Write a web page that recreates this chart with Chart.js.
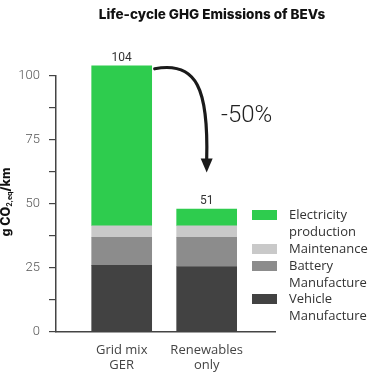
<!DOCTYPE html>
<html>
<head>
<meta charset="utf-8">
<script src="https://cdn.jsdelivr.net/npm/chart.js@4"></script>
<style>
html,body{margin:0;padding:0;background:#fff;}
#wrap{position:relative;width:375px;height:375px;}
</style>
</head>
<body>
<div id="wrap"><canvas id="c" width="375" height="375"></canvas></div>
<script>
// ---- data ----
const categories = [["Grid mix", "GER"], ["Renewables", "only"]];
const vehicleManufacture = [26, 25.5];
const batteryManufacture = [11, 11.5];
const maintenance = [4.5, 4.5];
const electricityProduction = [62.5, 6.5];
const totalLabels = ["104", "51"];
const yTicks = [0, 25, 50, 75, 100];
const seriesNames = ["Vehicle Manufacture", "Battery Manufacture", "Maintenance", "Electricity production"];
const legendLines = [["Electricity", "production"], ["Maintenance"], ["Battery", "Manufacture"], ["Vehicle", "Manufacture"]];
const reductionLabel = "-50%";
const titleText = "Life-cycle GHG Emissions of BEVs";

const colors = ["#424242", "#8c8c8c", "#c9c9c9", "#2ecc4e"];
const seriesValues = [vehicleManufacture, batteryManufacture, maintenance, electricityProduction];

const datasets = seriesValues.map((vals, i) => ({
  label: seriesNames[i],
  data: vals.map((v, k) => ({x: k, y: v})),
  backgroundColor: colors[i],
  borderWidth: 0,
  barThickness: 60,
  clip: false
}));

const overlay = {
  id: 'overlay',
  afterDraw(chart) {
    const ctx = chart.ctx;
    const xs = chart.scales.x, ys = chart.scales.y;
    ctx.save();
    // title
    ctx.fillStyle = '#111';
    ctx.font = '800 13.5px Inter, "Open Sans", sans-serif';
    ctx.textAlign = 'center';
    ctx.textBaseline = 'middle';
    ctx.fillText(titleText, 212, 15);

    // totals
    ctx.font = '12px Roboto, "Liberation Sans", sans-serif';
    ctx.fillStyle = '#333';
    ctx.textBaseline = 'bottom';
    categories.forEach((c, k) => {
      let tot = 0;
      seriesValues.forEach(s => tot += s[k]);
      ctx.fillText(totalLabels[k], xs.getPixelForValue(k), ys.getPixelForValue(tot) - 2);
    });

    // arrow
    const tot0 = seriesValues.reduce((a, s) => a + s[0], 0);
    const x0 = xs.getPixelForValue(0) + 33;
    const y0 = ys.getPixelForValue(tot0) + 3;
    const x1 = xs.getPixelForValue(1);
    const y1 = ys.getPixelForValue(67);
    ctx.strokeStyle = '#1a1a1a';
    ctx.lineWidth = 3.2;
    ctx.lineCap = 'round';
    ctx.beginPath();
    ctx.moveTo(x0, y0);
    ctx.bezierCurveTo(x0 + 42, y0 - 8, x1 + 2, y0 + 20, x1, y1);
    ctx.stroke();
    ctx.fillStyle = '#1a1a1a';
    ctx.beginPath();
    ctx.moveTo(x1 - 6, y1 - 2);
    ctx.lineTo(x1 + 6, y1 - 2);
    ctx.lineTo(x1, y1 + 12);
    ctx.closePath();
    ctx.fill();

    // -50%
    ctx.font = '300 24px Roboto, "Liberation Sans", sans-serif';
    ctx.fillStyle = '#222';
    ctx.textAlign = 'left';
    ctx.textBaseline = 'middle';
    ctx.fillText(reductionLabel, 221, 116);

    // y title with subscript
    ctx.save();
    ctx.translate(6, 202);
    ctx.rotate(-Math.PI / 2);
    ctx.fillStyle = '#111';
    ctx.textBaseline = 'middle';
    const p1 = 'g CO', p2 = '2,eq', p3 = '/km';
    ctx.font = '800 12.5px Inter, "Open Sans", sans-serif';
    const w1 = ctx.measureText(p1).width;
    const w3 = ctx.measureText(p3).width;
    ctx.font = 'bold 7px Inter, "Open Sans", sans-serif';
    const w2 = ctx.measureText(p2).width;
    let sx = -(w1 + w2 + w3) / 2;
    ctx.font = '800 12.5px Inter, "Open Sans", sans-serif';
    ctx.textAlign = 'left';
    ctx.fillText(p1, sx, 0);
    ctx.font = 'bold 7px Inter, "Open Sans", sans-serif';
    ctx.fillText(p2, sx + w1, 4);
    ctx.font = '800 12.5px Inter, "Open Sans", sans-serif';
    ctx.fillText(p3, sx + w1 + w2, 0);
    ctx.restore();

    // legend
    const order = [3, 2, 1, 0];
    const boxY = [210, 244, 261, 294];
    ctx.font = '13px "Open Sans", Roboto, sans-serif';
    ctx.textBaseline = 'middle';
    ctx.textAlign = 'left';
    order.forEach((di, j) => {
      ctx.fillStyle = colors[di];
      ctx.fillRect(252, boxY[j], 25, 10);
      ctx.fillStyle = '#333';
      legendLines[j].forEach((ln, li) => {
        ctx.fillText(ln, 289, boxY[j] + 5 + li * 17);
      });
    });
    ctx.restore();
  }
};

new Chart(document.getElementById('c'), {
  type: 'bar',
  data: { datasets },
  options: {
    responsive: false,
    animation: false,
    layout: { padding: { top: 76, right: 100, left: 0, bottom: 0 } },
    plugins: { legend: { display: false }, tooltip: { enabled: false }, title: { display: false } },
    scales: {
      x: {
        type: 'linear',
        stacked: true,
        offset: false,
        min: -0.773,
        max: 1.804,
        afterBuildTicks(scale) { scale.ticks = categories.map((c, k) => ({ value: k })); },
        afterFit(scale) { scale.height = 43; },
        grid: { display: false, drawTicks: false },
        border: { display: true, color: '#444', width: 1.5 },
        ticks: {
          callback: (v) => categories[v] || '',
          font: { family: '"Open Sans", Roboto, sans-serif', size: 13, lineHeight: 1.15 },
          color: '#444',
          padding: 11,
          maxRotation: 0,
          autoSkip: false
        }
      },
      y: {
        stacked: true,
        min: 0,
        max: 100,
        afterBuildTicks(scale) {
          const t = [];
          for (let v = 0; v <= 100; v += 12.5) t.push({ value: v });
          scale.ticks = t;
        },
        afterFit(scale) { scale.width = 56; },
        grid: { display: true, drawOnChartArea: false, drawTicks: true, tickLength: 7, color: '#444', lineWidth: 1.2 },
        border: { display: true, color: '#444', width: 1.5 },
        ticks: {
          callback: (v) => yTicks.includes(v) ? String(v) : '',
          font: { family: 'Roboto, "Liberation Sans", sans-serif', size: 13, weight: '300' },
          color: '#555',
          padding: 9,
          autoSkip: false
        }
      }
    }
  },
  plugins: [overlay]
});
</script>
</body>
</html>
